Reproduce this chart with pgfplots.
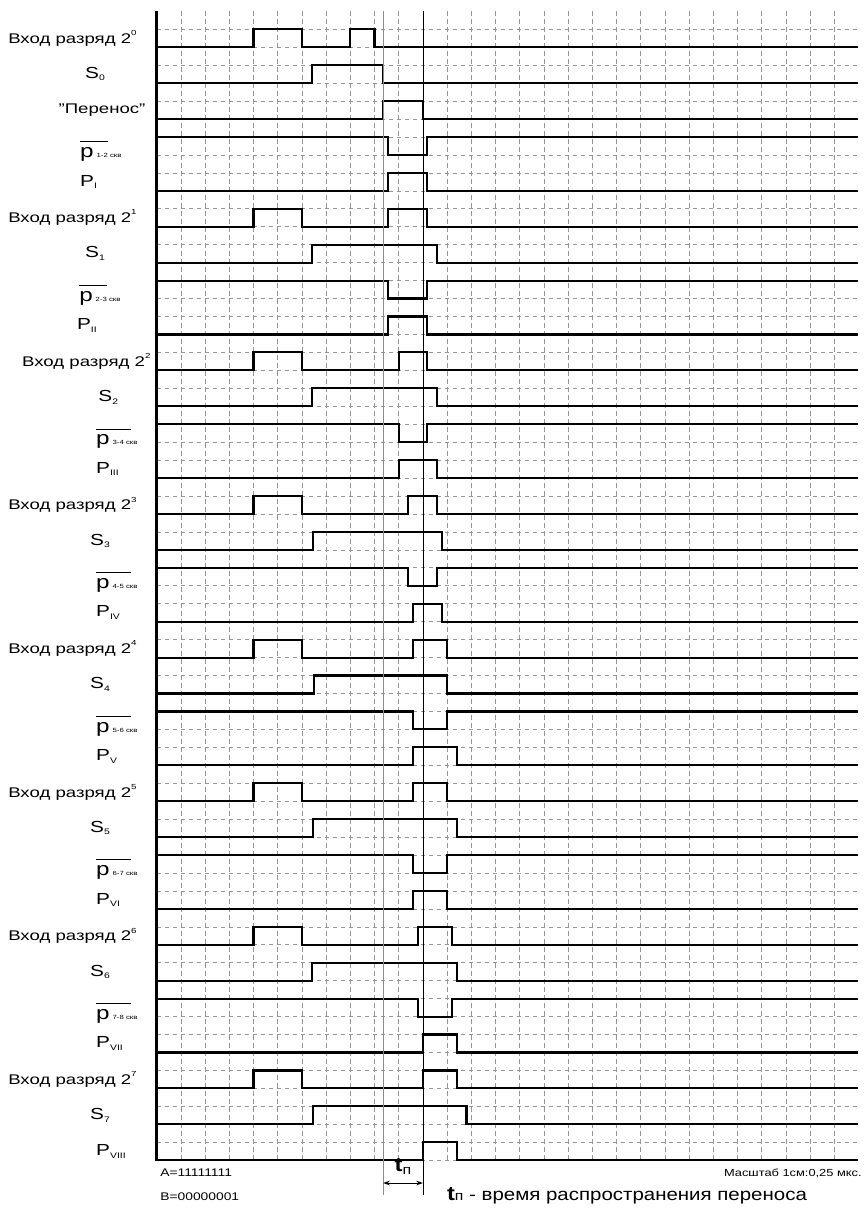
\documentclass[border=0pt]{standalone}
\usepackage{pgfplots}
\pgfplotsset{compat=1.18}
\usepackage{fontspec}
\setmainfont{Liberation Sans}
\usetikzlibrary{arrows.meta}
\definecolor{gridc}{RGB}{150,150,150}
\newcommand{\lab}[1]{\scalebox{1.33}[1]{\fontsize{10.5}{12}\selectfont #1}}
\newcommand{\biglab}[1]{\scalebox{1.3}[1]{\fontsize{12}{13}\selectfont #1}}
\newcommand{\sups}[1]{\raisebox{1.05ex}{\fontsize{5.5}{6}\selectfont #1}}
\newcommand{\subs}[1]{\raisebox{-0.3ex}{\fontsize{6}{7}\selectfont #1}}
\newcommand{\pbar}[2]{\scalebox{1.3}[1]{\rlap{\rule[11.5pt]{#2}{0.7pt}}{\fontsize{14}{14}\selectfont p}\,{\fontsize{4.5}{5}\selectfont #1}}}
\begin{document}
\begin{tikzpicture}
\begin{axis}[width=649.5pt, height=909.75pt, scale only axis,
  xmin=-6.475, xmax=29.31, ymin=-65.94, ymax=1.632,
  axis lines=none, ticks=none, clip=false,
  sig/.style={black, line width=1.6pt, line join=miter, mark=none}]
\path (rel axis cs:0,0) rectangle (rel axis cs:1,1);
% grid
\foreach \k in {1,...,28} {
  \edef\tmp{\noexpand\draw[gridc, line width=0.5pt, dash pattern=on 3.5pt off 2.5pt] (axis cs:\k,1.02) -- (axis cs:\k,-63);}\tmp
}
\foreach \j in {0,...,63} {
  \edef\tmp{\noexpand\draw[gridc, line width=0.5pt, dash pattern=on 3.5pt off 2.5pt] (axis cs:0,-\j) -- (axis cs:28.98,-\j);}\tmp
}
% signals
\addplot[sig] coordinates {(0,-1)(4,-1)(4,0)(6,0)(6,-1)(8,-1)(8,0)(9,0)(9,-1)(28.98,-1)};
\addplot[sig] coordinates {(0,-3)(6.4,-3)(6.4,-2)(9.36,-2)(9.36,-3)(28.98,-3)};
\addplot[sig] coordinates {(0,-5)(9.36,-5)(9.36,-4)(11,-4)(11,-5)(28.98,-5)};
\addplot[sig] coordinates {(0,-6)(9.57,-6)(9.57,-7)(11.18,-7)(11.18,-6)(28.98,-6)};
\addplot[sig] coordinates {(0,-9)(9.57,-9)(9.57,-8)(11.18,-8)(11.18,-9)(28.98,-9)};
\addplot[sig] coordinates {(0,-11)(4,-11)(4,-10)(6,-10)(6,-11)(9.57,-11)(9.57,-10)(11.18,-10)(11.18,-11)(28.98,-11)};
\addplot[sig] coordinates {(0,-13)(6.4,-13)(6.4,-12)(11.57,-12)(11.57,-13)(28.98,-13)};
\addplot[sig] coordinates {(0,-14)(9.57,-14)(9.57,-15)(11.18,-15)(11.18,-14)(28.98,-14)};
\addplot[sig] coordinates {(0,-17)(9.57,-17)(9.57,-16)(11.18,-16)(11.18,-17)(28.98,-17)};
\addplot[sig] coordinates {(0,-19)(4,-19)(4,-18)(6,-18)(6,-19)(10,-19)(10,-18)(11.18,-18)(11.18,-19)(28.98,-19)};
\addplot[sig] coordinates {(0,-21)(6.4,-21)(6.4,-20)(11.57,-20)(11.57,-21)(28.98,-21)};
\addplot[sig] coordinates {(0,-22)(10,-22)(10,-23)(11.18,-23)(11.18,-22)(28.98,-22)};
\addplot[sig] coordinates {(0,-25)(10,-25)(10,-24)(11.57,-24)(11.57,-25)(28.98,-25)};
\addplot[sig] coordinates {(0,-27)(4,-27)(4,-26)(6,-26)(6,-27)(10.37,-27)(10.37,-26)(11.57,-26)(11.57,-27)(28.98,-27)};
\addplot[sig] coordinates {(0,-29)(6.47,-29)(6.47,-28)(11.78,-28)(11.78,-29)(28.98,-29)};
\addplot[sig] coordinates {(0,-30)(10.37,-30)(10.37,-31)(11.57,-31)(11.57,-30)(28.98,-30)};
\addplot[sig] coordinates {(0,-33)(10.58,-33)(10.58,-32)(11.78,-32)(11.78,-33)(28.98,-33)};
\addplot[sig] coordinates {(0,-35)(4,-35)(4,-34)(6,-34)(6,-35)(10.58,-35)(10.58,-34)(12,-34)(12,-35)(28.98,-35)};
\addplot[sig] coordinates {(0,-37)(6.5,-37)(6.5,-36)(12,-36)(12,-37)(28.98,-37)};
\addplot[sig] coordinates {(0,-38)(10.58,-38)(10.58,-39)(12,-39)(12,-38)(28.98,-38)};
\addplot[sig] coordinates {(0,-41)(10.58,-41)(10.58,-40)(12.42,-40)(12.42,-41)(28.98,-41)};
\addplot[sig] coordinates {(0,-43)(4,-43)(4,-42)(6,-42)(6,-43)(10.58,-43)(10.58,-42)(12,-42)(12,-43)(28.98,-43)};
\addplot[sig] coordinates {(0,-45)(6.45,-45)(6.45,-44)(12.42,-44)(12.42,-45)(28.98,-45)};
\addplot[sig] coordinates {(0,-46)(10.58,-46)(10.58,-47)(12,-47)(12,-46)(28.98,-46)};
\addplot[sig] coordinates {(0,-49)(10.58,-49)(10.58,-48)(12,-48)(12,-49)(28.98,-49)};
\addplot[sig] coordinates {(0,-51)(4,-51)(4,-50)(6,-50)(6,-51)(10.79,-51)(10.79,-50)(12.19,-50)(12.19,-51)(28.98,-51)};
\addplot[sig] coordinates {(0,-53)(6.4,-53)(6.4,-52)(12.4,-52)(12.4,-53)(28.98,-53)};
\addplot[sig] coordinates {(0,-54)(10.79,-54)(10.79,-55)(12.19,-55)(12.19,-54)(28.98,-54)};
\addplot[sig] coordinates {(0,-57)(11,-57)(11,-56)(12.4,-56)(12.4,-57)(28.98,-57)};
\addplot[sig] coordinates {(0,-59)(4,-59)(4,-58)(6,-58)(6,-59)(11,-59)(11,-58)(12.4,-58)(12.4,-59)(28.98,-59)};
\addplot[sig] coordinates {(0,-61)(6.45,-61)(6.45,-60)(12.8,-60)(12.8,-61)(28.98,-61)};
\addplot[sig] coordinates {(0,-63)(11,-63)(11,-62)(12.4,-62)(12.4,-63)(28.98,-63)};
% left axis line
\draw[black, line width=2.2pt] (axis cs:0,1.02) -- (axis cs:0,-63.05);
% reference lines
\draw[black!45, line width=1pt] (axis cs:9.36,1.02) -- (axis cs:9.36,-64.94);
\draw[black, line width=0.6pt] (axis cs:11,1.02) -- (axis cs:11,-64.94);
\draw[black, line width=0.6pt, {Stealth[length=5pt,width=3.5pt]}-{Stealth[length=5pt,width=3.5pt]}] (axis cs:9.36,-64.27) -- (axis cs:11,-64.27);
% labels
\foreach \i/\k/\xx in {0/0/-6.145, 5/1/-6.145, 9/2/-5.57, 13/3/-6.145, 17/4/-6.145, 21/5/-6.145, 25/6/-6.145, 29/7/-6.145} {
  \pgfmathsetmacro{\yy}{-2*\i-0.5}
  \edef\tmp{\noexpand\node[anchor=west, inner sep=0pt] at (axis cs:\xx,\yy) {\noexpand\lab{Вход разряд 2\noexpand\sups{\k}}};}\tmp
}
\foreach \i/\k/\xx in {1/0/-2.55, 6/1/-2.55, 10/2/-2.0, 14/3/-2.34, 18/4/-2.34, 22/5/-2.34, 26/6/-2.34, 30/7/-2.34} {
  \pgfmathsetmacro{\yy}{-2*\i-0.5}
  \edef\tmp{\noexpand\node[inner sep=0pt] at (axis cs:\xx,\yy) {\noexpand\biglab{S\noexpand\subs{\k}}};}\tmp
}
\node[inner sep=0pt] at (axis cs:-2.26,-4.5) {\lab{"Перенос"}};
\foreach \i/\k/\xx in {4/I/-3.17, 8/II/-3.3, 12/III/-2.51, 16/IV/-2.51, 20/V/-2.51, 24/VI/-2.51, 28/VII/-2.51, 31/VIII/-2.51} {
  \pgfmathsetmacro{\yy}{-2*\i-0.5}
  \edef\tmp{\noexpand\node[anchor=west, inner sep=0pt] at (axis cs:\xx,\yy) {\noexpand\biglab{P\noexpand\subs{\k}}};}\tmp
}
\foreach \i/\k/\xx/\ll in {3/1-2/-3.17/16pt, 7/2-3/-3.21/16pt, 11/3-4/-2.51/20pt, 15/4-5/-2.51/20pt, 19/5-6/-2.51/20pt, 23/6-7/-2.51/20pt, 27/7-8/-2.51/20pt} {
  \pgfmathsetmacro{\yy}{-2*\i-1.15}
  \edef\tmp{\noexpand\node[anchor=base west, inner sep=0pt] at (axis cs:\xx,\yy) {\noexpand\pbar{\k\space скв}{\ll}};}\tmp
}
% bottom texts
\node[anchor=west, inner sep=0pt] at (axis cs:0.14,-63.71) {\scalebox{1.25}[1]{\fontsize{8.3}{9}\selectfont A=11111111}};
\node[anchor=west, inner sep=0pt] at (axis cs:0.14,-65.05) {\scalebox{1.25}[1]{\fontsize{8.3}{9}\selectfont B=00000001}};
\node[anchor=east, inner sep=0pt] at (axis cs:29.14,-63.71) {\scalebox{1.25}[1]{\fontsize{7.7}{9}\selectfont Масштаб 1см:0,25 мкс.}};
\node[inner sep=0pt] at (axis cs:10.18,-63.35) {\scalebox{1.2}[1]{{\fontsize{15}{15}\selectfont\bfseries t}\subs{\fontsize{10}{10}\selectfont п}}};
\node[anchor=west, inner sep=0pt] at (axis cs:11.99,-65.0) {\scalebox{1.18}[1]{{\fontsize{15}{15}\selectfont\bfseries t}{\fontsize{10}{10}\selectfont п}\fontsize{13}{14}\selectfont{} - время распространения переноса}};
\end{axis}
\end{tikzpicture}
\end{document}
